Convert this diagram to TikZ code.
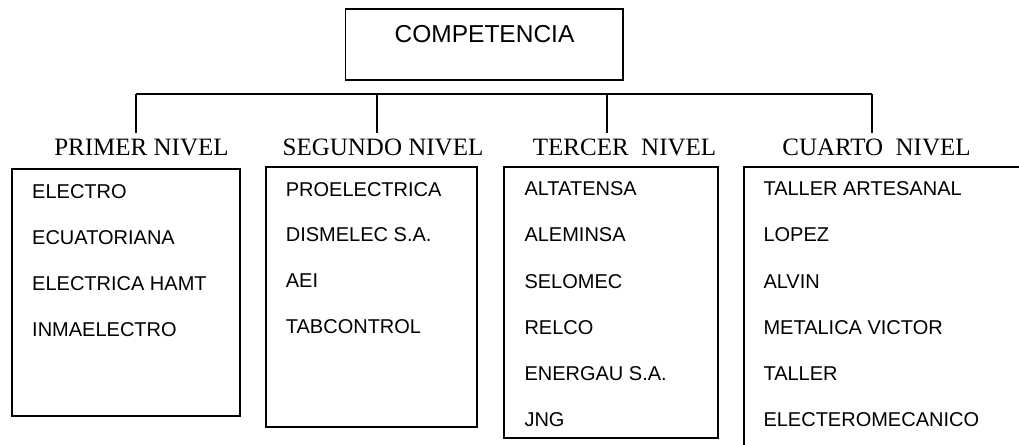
\documentclass[tikz,border=0pt]{standalone}
\usepackage{fontspec}
\setmainfont{Liberation Serif}
\newfontfamily\arialf{Liberation Sans}
\begin{document}
\begin{tikzpicture}[x=1pt,y=-1pt,
  frame/.style={draw=black,line width=1.4pt},
  conn/.style={draw=black,line width=1.4pt},
  lvl/.style={anchor=base,inner sep=0pt,font=\fontsize{25}{25}\selectfont},
  item/.style={anchor=base west,inner sep=0pt,font=\arialf\fontsize{20}{20}\selectfont},
  title/.style={anchor=base,inner sep=0pt,font=\arialf\fontsize{24.5}{24.5}\selectfont}]
\useasboundingbox (0,0) rectangle (1019,444);
\clip (0,0) rectangle (1019,444);
% top box
\draw[frame] (345.7,9) rectangle (623,80);
\node[title] (comp) at (484.5,42) {COMPETENCIA};
% tree
\coordinate (h1) at (136,94);
\coordinate (h2) at (377,94);
\coordinate (h3) at (607,94);
\coordinate (h4) at (872,94);
\coordinate (d1) at (136,133);
\coordinate (d2) at (377,133);
\coordinate (d3) at (607,133);
\coordinate (d4) at (872,133);
\draw[conn] (h1) -- (h4);
\draw[conn] (h1) -- (d1);
\draw[conn] (h2) -- (d2);
\draw[conn] (h3) -- (d3);
\draw[conn] (h4) -- (d4);
% level labels
\node[lvl] (l1) at (141.5,155) {PRIMER NIVEL};
\node[lvl] (l2) at (383,155) {SEGUNDO NIVEL};
\node[lvl] (l3) at (624.5,155) {TERCER\ \ NIVEL};
\node[lvl] (l4) at (876.5,155) {CUARTO\ \ NIVEL};
% boxes
\draw[frame] (12,169) rectangle (240,416);
\draw[frame] (266,167) rectangle (477,427);
\draw[frame] (504,167) rectangle (718,438);
\draw[frame] (744,167) rectangle (1040,470);
% box 1
\node[item] (a1) at (32,198.3) {ELECTRO};
\node[item] (a2) at (32,244.3) {ECUATORIANA};
\node[item] (a3) at (32,290) {ELECTRICA HAMT};
\node[item] (a4) at (32,336) {INMAELECTRO};
% box 2
\node[item] (b1) at (285.7,196) {PROELECTRICA};
\node[item] (b2) at (285.7,241.7) {DISMELEC S.A.};
\node[item] (b3) at (285.7,287.7) {AEI};
\node[item] (b4) at (285.7,333.7) {TABCONTROL};
% box 3
\node[item] (c1) at (524.3,195.7) {ALTATENSA};
\node[item] (c2) at (524.3,241.7) {ALEMINSA};
\node[item] (c3) at (524.3,288.3) {SELOMEC};
\node[item] (c4) at (524.3,334) {RELCO};
\node[item] (c5) at (524.3,380.7) {ENERGAU S.A.};
\node[item] (c6) at (524.3,426.7) {JNG};
% box 4
\node[item] (e1) at (763.3,195.7) {TALLER ARTESANAL};
\node[item] (e2) at (763.3,241.7) {LOPEZ};
\node[item] (e3) at (763.3,288.3) {ALVIN};
\node[item] (e4) at (763.3,334) {METALICA VICTOR};
\node[item] (e5) at (763.3,380.7) {TALLER};
\node[item] (e6) at (763.3,426.7) {ELECTEROMECANICO};
\end{tikzpicture}
\end{document}
